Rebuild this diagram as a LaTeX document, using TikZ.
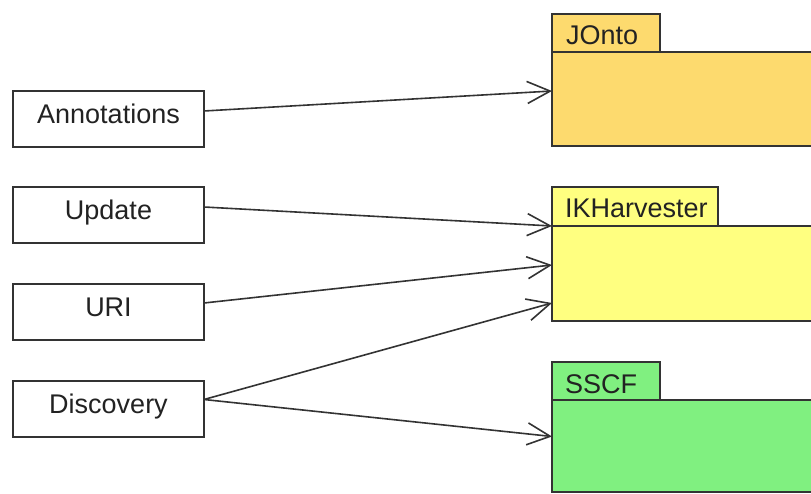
\documentclass[tikz,border=0pt]{standalone}
\usepackage{fontspec}
\setmainfont{Liberation Sans}
\usetikzlibrary{arrows.meta}
\definecolor{jonto}{HTML}{FDDA6E}
\definecolor{ikh}{HTML}{FFFF80}
\definecolor{sscf}{HTML}{80F080}
\definecolor{edgec}{HTML}{333333}
\definecolor{txt}{HTML}{222222}
\begin{document}
\begin{tikzpicture}[x=1pt,y=-1pt,
  box/.style={draw=edgec,line width=2pt,fill=white,minimum width=191pt,minimum height=56pt,inner sep=0pt,outer sep=0pt,anchor=north west,text=txt,text height=19pt,text depth=10pt,font=\fontsize{27}{32}\selectfont},
  tab/.style={draw=edgec,line width=2pt,inner sep=0pt,outer sep=0pt,anchor=north west},
  body/.style={draw=edgec,line width=2pt,inner sep=0pt,outer sep=0pt,anchor=north west,minimum width=275pt},
  lbl/.style={anchor=base west,inner sep=0pt,text=txt,font=\fontsize{27}{32}\selectfont},
  link/.style={draw=edgec,line width=1.6pt,-{Straight Barb[length=23pt,width=22pt,line width=1.6pt]}}]
\useasboundingbox (0,0) rectangle (811,494);
% left boxes
\node[box] (ann) at (13,91) {Annotations};
\node[box] (upd) at (13,187) {Update};
\node[box] (uri) at (13,284) {URI};
\node[box] (dis) at (13,381) {Discovery};
% JOnto package
\node[tab,fill=jonto,minimum width=108pt,minimum height=38pt] (jtab) at (552,14) {};
\node[body,fill=jonto,minimum height=94pt] (jbody) at (552,52) {};
\node[lbl] (jlbl) at (566,45) {JOnto};
% IKHarvester package
\node[tab,fill=ikh,minimum width=166pt,minimum height=39pt] (itab) at (552,187) {};
\node[body,fill=ikh,minimum height=95pt] (ibody) at (552,226) {};
\node[lbl] (ilbl) at (565,218) {IKHarvester};
% SSCF package
\node[tab,fill=sscf,minimum width=108pt,minimum height=38pt] (stab) at (552,362) {};
\node[body,fill=sscf,minimum height=92pt] (sbody) at (552,400) {};
\node[lbl] (slbl) at (565,393) {SSCF};
% connectors
\draw[link] ([yshift=8pt]ann.east) -- ([yshift=8pt]jbody.west);
\draw[link] ([yshift=8pt]upd.east) -- (ibody.north west);
\draw[link] ([yshift=9pt]uri.east) -- ([yshift=8.5pt]ibody.west);
\draw[link] ([yshift=9.5pt]dis.east) -- ([yshift=-29.5pt]ibody.west);
\draw[link] ([yshift=9.5pt]dis.east) -- ([yshift=9.5pt]sbody.west);
\end{tikzpicture}
\end{document}
